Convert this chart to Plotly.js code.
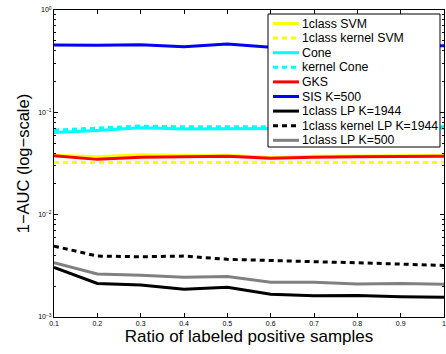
<!DOCTYPE html>
<html>
<head>
<meta charset="utf-8">
<script src="https://cdn.plot.ly/plotly-3.0.1.min.js"></script>
<style>html,body{margin:0;padding:0;background:#fff;}#chart{width:446px;height:354px;}</style>
</head>
<body>
<div id="chart"></div>
<script>
const ratios = [0.1, 0.2, 0.3, 0.4, 0.5, 0.6, 0.7, 0.8, 0.9, 1.0];
const xTickText = ['0.1','0.2','0.3','0.4','0.5','0.6','0.7','0.8','0.9','1'];

const svm1class       = [0.0380, 0.0368, 0.0385, 0.0378, 0.0380, 0.0362, 0.0372, 0.0375, 0.0376, 0.0378];
const svmKernel1class = [0.0324, 0.0323, 0.0324, 0.0322, 0.0321, 0.0322, 0.0323, 0.0324, 0.0323, 0.0324];
const cone            = [0.0637, 0.0665, 0.0707, 0.0686, 0.0690, 0.0688, 0.0695, 0.0700, 0.0700, 0.0702];
const kernelCone      = [0.0671, 0.0700, 0.0734, 0.0722, 0.0725, 0.0720, 0.0722, 0.0725, 0.0725, 0.0725];
const gks             = [0.0376, 0.0347, 0.0363, 0.0370, 0.0372, 0.0355, 0.0365, 0.0368, 0.0370, 0.0372];
const sis500          = [0.455, 0.452, 0.458, 0.438, 0.465, 0.432, 0.445, 0.448, 0.447, 0.448];
const lp1944          = [0.00305, 0.00213, 0.00205, 0.00187, 0.00195, 0.00167, 0.00161, 0.00162, 0.00158, 0.00156];
const lpKernel1944    = [0.00493, 0.00394, 0.00388, 0.00394, 0.00366, 0.00354, 0.00347, 0.00339, 0.00329, 0.00319];
const lp500           = [0.00339, 0.00263, 0.00256, 0.00244, 0.00249, 0.00218, 0.00218, 0.00210, 0.00213, 0.00209];

const yTickVals = [0.001, 0.01, 0.1, 1];
const yTickText = ['10<sup>−3</sup>','10<sup>−2</sup>','10<sup>−1</sup>','10<sup>0</sup>'];
const yMinorVals = [];
for (const d of [0.001, 0.01, 0.1]) for (let k = 2; k <= 9; k++) yMinorVals.push(d * k);

const seriesNames = ['1class SVM','1class kernel SVM','Cone','kernel Cone','GKS','SIS K=500','1class LP K=1944','1class kernel LP K=1944','1class LP K=500'];
const seriesData = [svm1class, svmKernel1class, cone, kernelCone, gks, sis500, lp1944, lpKernel1944, lp500];
const seriesColor = ['#ffff00','#ffff00','#00ffff','#00ffff','#ff0000','#0000ff','#000000','#000000','#808080'];
const seriesDash = ['solid','5px,4px','solid','5px,4px','solid','solid','solid','5px,4px','solid'];

const traces = seriesNames.map((n, i) => ({
  x: ratios, y: seriesData[i], name: n, type: 'scatter', mode: 'lines',
  line: {color: seriesColor[i], width: 3, dash: seriesDash[i]}, showlegend: false
}));

// plot-area geometry (pixels) used to place the hand-drawn legend box
const W = 446, H = 354, ML = 54, MR = 2, MT = 10, MB = 37;
const pw = W - ML - MR, ph = H - MT - MB;
const px = v => (v - ML) / pw;
const py = v => (H - MB - v) / ph;

const font = 'Liberation Sans, Arial, Helvetica, sans-serif';
const shapes = [{
  type: 'rect', xref: 'paper', yref: 'paper',
  x0: px(268), x1: px(440), y0: py(147), y1: py(14),
  fillcolor: '#fff', line: {color: '#000', width: 1}, layer: 'above'
}];
const annotations = [];
seriesNames.forEach((n, i) => {
  const yc = 23.5 + i * 14.6;
  shapes.push({
    type: 'line', xref: 'paper', yref: 'paper',
    x0: px(273), x1: px(299), y0: py(yc), y1: py(yc),
    line: {color: seriesColor[i], width: 3, dash: seriesDash[i]}, layer: 'above'
  });
  annotations.push({
    xref: 'paper', yref: 'paper', x: px(300), y: py(yc),
    xanchor: 'left', yanchor: 'middle', showarrow: false,
    text: n, font: {size: 12.3, family: font, color: '#000'}
  });
});

const layout = {
  width: W, height: H,
  margin: {l: ML, r: MR, t: MT, b: MB},
  paper_bgcolor: '#fff', plot_bgcolor: '#fff',
  font: {family: font, color: '#000'},
  showlegend: false,
  shapes: shapes, annotations: annotations,
  xaxis: {
    range: [0.1, 1.0], tickvals: ratios, ticktext: xTickText,
    ticks: 'inside', ticklen: 4, tickcolor: '#000',
    showline: true, linecolor: '#000', linewidth: 1, mirror: 'ticks',
    showgrid: false, zeroline: false, automargin: false,
    ticklabeloverflow: 'allow',
    tickfont: {size: 7, family: font},
    title: {text: 'Ratio of labeled positive samples', font: {size: 17, family: font}, standoff: 3}
  },
  yaxis: {
    type: 'log', range: [-3, 0], tickvals: yTickVals, ticktext: yTickText,
    ticks: 'inside', ticklen: 4, tickcolor: '#000',
    minor: {tickvals: yMinorVals, ticks: 'inside', ticklen: 2, tickcolor: '#000'},
    showline: true, linecolor: '#000', linewidth: 1, mirror: 'ticks',
    showgrid: false, zeroline: false,
    tickfont: {size: 7, family: font},
    title: {text: '1−AUC (log−scale)', font: {size: 16.5, family: font}, standoff: 4}
  }
};

Plotly.newPlot('chart', traces, layout, {staticPlot: true, displayModeBar: false});
</script>
</body>
</html>
